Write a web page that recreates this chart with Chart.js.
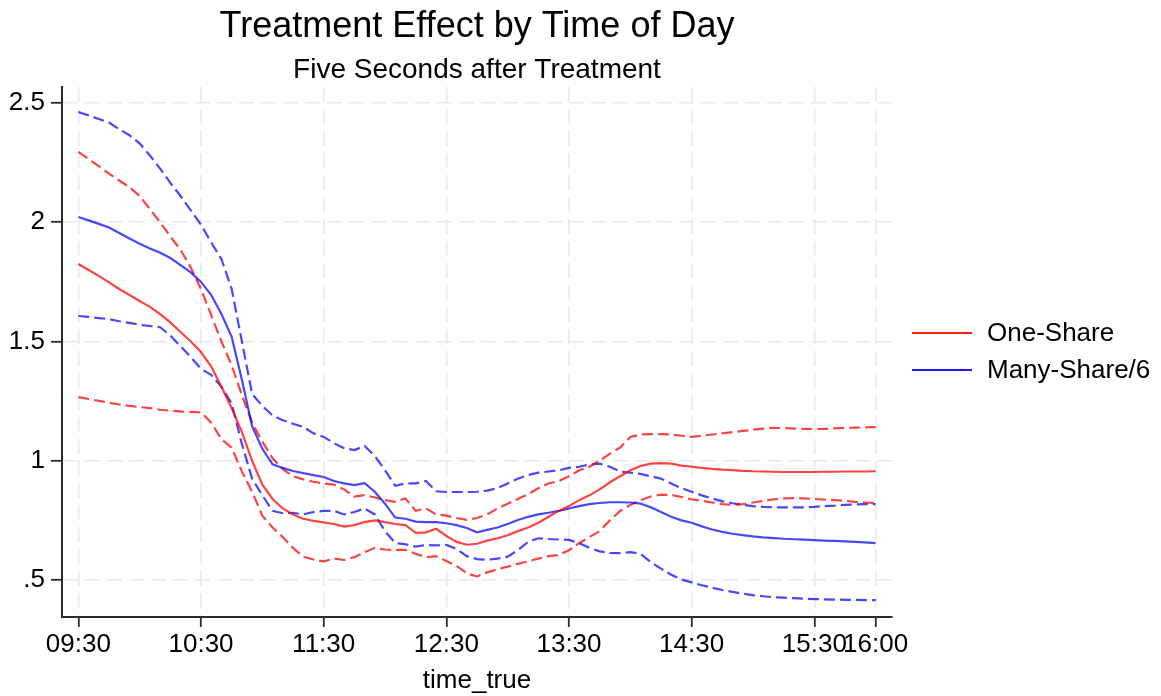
<!DOCTYPE html>
<html>
<head>
<meta charset="utf-8">
<script src="https://cdn.jsdelivr.net/npm/chart.js@4.4.1/dist/chart.umd.min.js"></script>
<style>
  html, body { margin: 0; padding: 0; background: #fff; }
  #wrap { width: 1161px; height: 696px; }
</style>
</head>
<body>
<div id="wrap"><canvas id="myChart" width="1161" height="696"></canvas></div>
<script>
// time of day, minutes after midnight (09:30 = 570 ... 16:00 = 960)
var timeMin = [
  570, 575, 580, 585, 590, 595, 600, 605, 610, 615, 620, 625,
  630, 635, 640, 645, 650, 655, 660, 665, 670, 675, 680, 685,
  690, 695, 700, 705, 710, 715, 720, 725, 730, 735, 740, 745,
  750, 755, 760, 765, 770, 775, 780, 785, 790, 795, 800, 805,
  810, 815, 820, 825, 830, 835, 840, 845, 850, 855, 860, 865,
  870, 875, 880, 885, 890, 895, 900, 905, 910, 915, 920, 925,
  930, 935, 940, 945, 950, 955, 960
];

var oneShare = [
  1.825, 1.800, 1.775, 1.748, 1.720, 1.695, 1.670, 1.645, 1.615, 1.580, 1.540, 1.500,
  1.456, 1.395, 1.310, 1.220, 1.120, 1.000, 0.900, 0.840, 0.800, 0.775, 0.757, 0.748,
  0.742, 0.735, 0.724, 0.730, 0.743, 0.750, 0.743, 0.735, 0.730, 0.698, 0.700, 0.715,
  0.685, 0.660, 0.648, 0.652, 0.665, 0.675, 0.688, 0.705, 0.720, 0.740, 0.765, 0.790,
  0.810, 0.835, 0.855, 0.880, 0.910, 0.935, 0.960, 0.978, 0.988, 0.990, 0.988, 0.980,
  0.975, 0.970, 0.966, 0.963, 0.961, 0.958, 0.956, 0.955, 0.954, 0.953, 0.953, 0.953,
  0.953, 0.954, 0.954, 0.955, 0.955, 0.955, 0.956
];
var oneShareHi = [
  2.295, 2.265, 2.235, 2.204, 2.175, 2.147, 2.110, 2.055, 2.000, 1.940, 1.884, 1.810,
  1.720, 1.610, 1.500, 1.400, 1.275, 1.160, 1.080, 1.010, 0.965, 0.935, 0.922, 0.912,
  0.905, 0.900, 0.880, 0.850, 0.856, 0.846, 0.835, 0.828, 0.842, 0.790, 0.800, 0.775,
  0.770, 0.760, 0.752, 0.760, 0.775, 0.800, 0.820, 0.840, 0.860, 0.885, 0.905, 0.915,
  0.935, 0.960, 0.975, 1.000, 1.030, 1.055, 1.100, 1.110, 1.112, 1.112, 1.110, 1.105,
  1.100, 1.105, 1.110, 1.115, 1.120, 1.125, 1.130, 1.135, 1.138, 1.137, 1.135, 1.134,
  1.133, 1.134, 1.136, 1.138, 1.139, 1.140, 1.141
];
var oneShareLo = [
  1.267, 1.259, 1.251, 1.243, 1.236, 1.230, 1.225, 1.221, 1.214, 1.210, 1.207, 1.205,
  1.203, 1.160, 1.090, 1.055, 0.955, 0.870, 0.770, 0.720, 0.680, 0.635, 0.598, 0.586,
  0.578, 0.590, 0.584, 0.596, 0.617, 0.634, 0.628, 0.626, 0.626, 0.610, 0.596, 0.600,
  0.580, 0.560, 0.528, 0.515, 0.532, 0.545, 0.556, 0.568, 0.578, 0.590, 0.600, 0.605,
  0.625, 0.655, 0.680, 0.705, 0.750, 0.790, 0.815, 0.835, 0.850, 0.858, 0.857, 0.848,
  0.838, 0.832, 0.825, 0.818, 0.815, 0.818, 0.825, 0.832, 0.838, 0.842, 0.843, 0.842,
  0.840, 0.837, 0.835, 0.832, 0.828, 0.825, 0.823
];

var manyShare = [
  2.022, 2.008, 1.993, 1.978, 1.955, 1.932, 1.910, 1.890, 1.872, 1.850, 1.820, 1.790,
  1.750, 1.695, 1.615, 1.520, 1.340, 1.145, 1.050, 0.985, 0.970, 0.957, 0.948, 0.940,
  0.932, 0.915, 0.905, 0.898, 0.906, 0.870, 0.820, 0.762, 0.757, 0.745, 0.743, 0.743,
  0.738, 0.730, 0.718, 0.700, 0.710, 0.720, 0.735, 0.752, 0.765, 0.775, 0.782, 0.790,
  0.800, 0.810, 0.818, 0.823, 0.826, 0.826, 0.825, 0.820, 0.805, 0.785, 0.765, 0.750,
  0.740, 0.725, 0.712, 0.702, 0.694, 0.688, 0.683, 0.679, 0.676, 0.673, 0.671, 0.669,
  0.667, 0.665, 0.664, 0.662, 0.660, 0.658, 0.655
];
var manyShareHi = [
  2.462, 2.448, 2.433, 2.418, 2.390, 2.365, 2.330, 2.280, 2.225, 2.165, 2.110, 2.050,
  1.990, 1.915, 1.845, 1.720, 1.500, 1.280, 1.230, 1.190, 1.170, 1.155, 1.142, 1.115,
  1.100, 1.074, 1.053, 1.045, 1.062, 1.020, 0.960, 0.895, 0.905, 0.905, 0.915, 0.872,
  0.869, 0.869, 0.869, 0.870, 0.875, 0.885, 0.905, 0.925, 0.940, 0.950, 0.955, 0.960,
  0.970, 0.975, 0.985, 0.988, 0.975, 0.955, 0.950, 0.945, 0.935, 0.925, 0.905, 0.885,
  0.870, 0.855, 0.842, 0.830, 0.822, 0.815, 0.810, 0.807, 0.805, 0.805, 0.805, 0.805,
  0.807, 0.810, 0.812, 0.815, 0.817, 0.818, 0.818
];
var manyShareLo = [
  1.607, 1.603, 1.598, 1.594, 1.585, 1.578, 1.570, 1.565, 1.560, 1.525, 1.480, 1.435,
  1.385, 1.360, 1.310, 1.240, 1.070, 0.925, 0.855, 0.790, 0.780, 0.782, 0.775, 0.785,
  0.790, 0.790, 0.775, 0.785, 0.800, 0.775, 0.705, 0.655, 0.650, 0.640, 0.647, 0.645,
  0.647, 0.630, 0.600, 0.588, 0.585, 0.590, 0.598, 0.625, 0.660, 0.675, 0.672, 0.670,
  0.668, 0.655, 0.635, 0.620, 0.614, 0.613, 0.617, 0.610, 0.575, 0.548, 0.522, 0.502,
  0.490, 0.478, 0.468, 0.458, 0.450, 0.443, 0.437, 0.432, 0.428, 0.426, 0.424, 0.422,
  0.420, 0.419, 0.418, 0.417, 0.417, 0.416, 0.416
];

var xTicks = [570, 630, 690, 750, 810, 870, 930, 960];
var yTicks = [0.5, 1, 1.5, 2, 2.5];
var legendLabels = ['One-Share', 'Many-Share/6'];

var FONT = '"Liberation Sans", Arial, Helvetica, sans-serif';
var RED = 'rgba(255, 0, 0, 0.74)';
var BLUE = 'rgba(0, 0, 255, 0.72)';

function pts(arr) {
  return timeMin.map(function(t, i) { return {x: t, y: arr[i]}; });
}

function hhmm(v) {
  var h = Math.floor(v / 60);
  var m = v % 60;
  return (h < 10 ? '0' : '') + h + ':' + (m < 10 ? '0' : '') + m;
}

function lineSet(label, arr, color, dashed) {
  return {
    label: label,
    data: pts(arr),
    borderColor: color,
    borderWidth: 2.2,
    borderDash: dashed ? [11, 5] : [],
    pointRadius: 0,
    tension: 0,
    fill: false
  };
}

// legend drawn by hand so it sits like the original, right of the plot
var sideLegend = {
  id: 'sideLegend',
  afterDraw: function(chart) {
    var ctx = chart.ctx;
    var colors = ['#ff1a1a', '#1a1aff'];
    var ys = [333, 370];
    ctx.save();
    ctx.font = '26px ' + FONT;
    ctx.textBaseline = 'middle';
    ctx.textAlign = 'left';
    for (var i = 0; i < legendLabels.length; ++i) {
      ctx.strokeStyle = colors[i];
      ctx.lineWidth = 2;
      ctx.beginPath();
      ctx.moveTo(912, ys[i]);
      ctx.lineTo(972, ys[i]);
      ctx.stroke();
      ctx.fillStyle = '#000';
      ctx.fillText(legendLabels[i], 987, ys[i] + 1);
    }
    ctx.restore();
  }
};

var ctx = document.getElementById('myChart');
var myChart = new Chart(ctx, {
  type: 'line',
  data: {
    datasets: [
      lineSet('One-Share', oneShare, RED, false),
      lineSet('Many-Share/6', manyShare, BLUE, false),
      lineSet('One-Share upper', oneShareHi, RED, true),
      lineSet('One-Share lower', oneShareLo, RED, true),
      lineSet('Many-Share upper', manyShareHi, BLUE, true),
      lineSet('Many-Share lower', manyShareLo, BLUE, true)
    ]
  },
  options: {
    responsive: false,
    animation: false,
    layout: {padding: {left: 0, right: 269, top: 0, bottom: 0}},
    plugins: {
      legend: {display: false},
      tooltip: {enabled: false},
      title: {
        display: true, fullSize: false, color: '#000',
        text: 'Treatment Effect by Time of Day',
        font: {family: FONT, size: 36, weight: 'normal', lineHeight: 1},
        padding: {top: 9, bottom: 11}
      },
      subtitle: {
        display: true, fullSize: false, color: '#000',
        text: 'Five Seconds after Treatment',
        font: {family: FONT, size: 28, weight: 'normal', lineHeight: 1},
        padding: {top: 0, bottom: 3}
      }
    },
    scales: {
      x: {
        type: 'linear',
        min: 562,
        max: 968,
        afterBuildTicks: function(scale) {
          scale.ticks = xTicks.map(function(v) { return {value: v}; });
        },
        afterFit: function(scale) { scale.height = 79; },
        ticks: {
          autoSkip: false, maxRotation: 0, minRotation: 0, padding: 2,
          color: '#000', font: {family: FONT, size: 26},
          callback: function(v) { return hhmm(v); }
        },
        grid: {color: '#e9e9e9', lineWidth: 1.6, tickLength: 10, tickColor: '#2a2a2a', tickWidth: 1.8},
        border: {display: true, color: '#2a2a2a', width: 2, dash: [15, 7]},
        title: {
          display: true, text: 'time_true', color: '#000',
          font: {family: FONT, size: 26, lineHeight: 1.2},
          padding: {top: 0, bottom: 0}
        }
      },
      y: {
        type: 'linear',
        min: 0.345,
        max: 2.567,
        afterBuildTicks: function(scale) {
          scale.ticks = yTicks.map(function(v) { return {value: v}; });
        },
        afterFit: function(scale) { scale.width = 62; },
        ticks: {
          padding: 6, color: '#000', font: {family: FONT, size: 26},
          callback: function(v) { return String(v).replace(/^0\./, '.'); }
        },
        grid: {color: '#e9e9e9', lineWidth: 1.6, tickLength: 11, tickColor: '#2a2a2a', tickWidth: 1.8},
        border: {display: true, color: '#2a2a2a', width: 2, dash: [15, 7]}
      }
    }
  },
  plugins: [sideLegend]
});
</script>
</body>
</html>
